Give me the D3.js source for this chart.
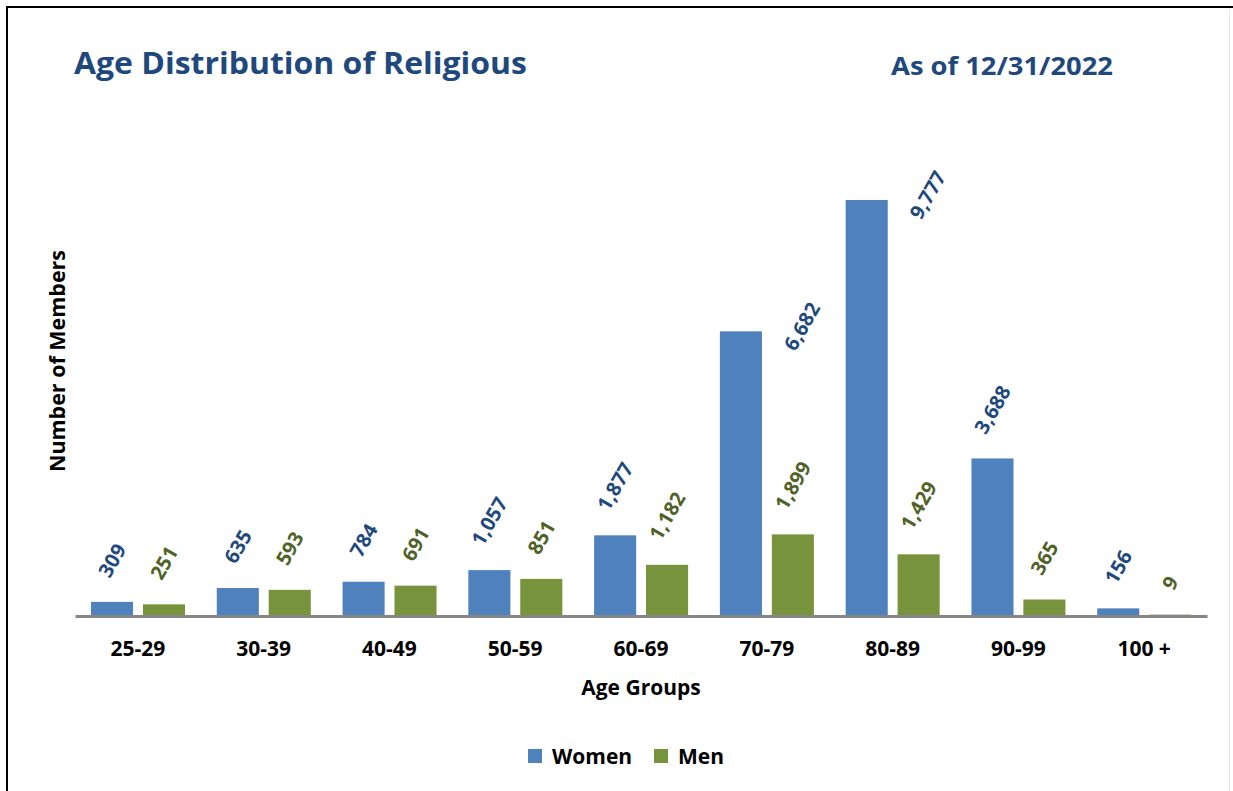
<!DOCTYPE html>
<html>
<head>
<meta charset="utf-8">
<script src="https://cdn.jsdelivr.net/npm/d3@7"></script>
<style>
  body { margin: 0; background: #fff; }
  svg { display: block; }
  text { font-family: "Open Sans", "Noto Sans", sans-serif; font-weight: 700; }
</style>
</head>
<body>
<div id="chart"></div>
<script>
// Data
const ageGroups = ["25-29", "30-39", "40-49", "50-59", "60-69", "70-79", "80-89", "90-99", "100 +"];
const women = [309, 635, 784, 1057, 1877, 6682, 9777, 3688, 156];
const men = [251, 593, 691, 851, 1182, 1899, 1429, 365, 9];
const seriesNames = ["Women", "Men"];
// women labels that were dragged beside their bar in the original
const sideLabels = ["70-79", "80-89"];

const W = 1233, H = 791;
const colors = { Women: "#4f81bd", Men: "#77933c" };
const labelColors = { Women: "#1f497d", Men: "#4f6228" };

const rows = ageGroups.map((g, i) => ({ group: g, Women: women[i], Men: men[i] }));

const svg = d3.select("#chart").append("svg")
    .attr("width", W).attr("height", H);

// frame
svg.append("path")
    .attr("d", "M7,800 V7 H1240")
    .attr("fill", "none").attr("stroke", "#000").attr("stroke-width", 2);
svg.append("line")
    .attr("x1", 1229.5).attr("x2", 1229.5).attr("y1", 9).attr("y2", H)
    .attr("stroke", "#e6e6e6").attr("stroke-width", 1);

const x0 = d3.scaleBand().domain(ageGroups).range([75, 1207]);
const x1 = d3.scaleBand().domain(seriesNames).range([16, 110]).paddingInner(0.19);
const y = d3.scaleLinear().domain([0, 10000]).range([615, 190.5]);

// bars
const groups = svg.selectAll(".grp")
    .data(rows)
    .join("g")
    .attr("class", "grp")
    .attr("transform", d => `translate(${x0(d.group)},0)`);

groups.selectAll("rect")
    .data(d => seriesNames.map(s => ({ s, v: d[s], group: d.group })))
    .join("rect")
    .attr("x", d => x1(d.s))
    .attr("width", x1.bandwidth())
    .attr("y", d => y(d.v))
    .attr("height", d => y(0) - y(d.v))
    .attr("fill", d => colors[d.s]);

// axis line + category labels
const xAxis = svg.append("g")
    .attr("transform", `translate(0,${y(0) + 1})`)
    .call(d3.axisBottom(x0).tickSize(0).tickPadding(25));
xAxis.select(".domain").attr("stroke", "#868686").attr("stroke-width", 3);
xAxis.selectAll("text")
    .attr("font-family", "'Open Sans', sans-serif")
    .attr("font-weight", 700)
    .attr("font-size", 21)
    .attr("fill", "#000");

// rotated value labels
const fmt = d3.format(",");
const angle = 60, rad = angle * Math.PI / 180, fs = 20;
groups.selectAll(".vlabel")
    .data(d => seriesNames.map(s => ({ s, v: d[s], group: d.group })))
    .join("text")
    .attr("class", "vlabel")
    .attr("font-size", fs)
    .attr("fill", d => labelColors[d.s])
    .attr("text-anchor", "middle")
    .attr("dy", "0.36em")
    .text(d => fmt(d.v))
    .each(function(d) {
      const L = this.getComputedTextLength();
      const h = 0.72 * fs;
      const boxH = L * Math.sin(rad) + h * Math.cos(rad);
      let cx = x1(d.s) + x1.bandwidth() / 2;
      let cy = y(d.v) - 23 - boxH / 2;
      if (d.s === "Women" && sideLabels.includes(d.group)) {
        cx = x1(d.s) + x1.bandwidth() + 40;
        cy = y(d.v) - 5;
      }
      d3.select(this).attr("transform", `translate(${cx},${cy}) rotate(${-angle})`);
    });

// titles
svg.append("text")
    .attr("x", 74).attr("y", 74)
    .attr("font-size", 30)
    .attr("fill", "#1f497d")
    .attr("textLength", 453).attr("lengthAdjust", "spacingAndGlyphs")
    .text("Age Distribution of Religious");

svg.append("text")
    .attr("x", 891).attr("y", 75)
    .attr("font-size", 25)
    .attr("fill", "#1f497d")
    .attr("textLength", 222).attr("lengthAdjust", "spacingAndGlyphs")
    .text("As of 12/31/2022");

// axis titles
svg.append("text")
    .attr("transform", "translate(65,361) rotate(-90)")
    .attr("text-anchor", "middle")
    .attr("font-family", "'Liberation Sans', Arial, sans-serif")
    .attr("font-size", 22)
    .attr("fill", "#000")
    .attr("textLength", 222).attr("lengthAdjust", "spacingAndGlyphs")
    .text("Number of Members");

svg.append("text")
    .attr("x", 641).attr("y", 695)
    .attr("text-anchor", "middle")
    .attr("font-size", 21)
    .attr("fill", "#000")
    .text("Age Groups");

// legend
const legend = svg.append("g").attr("transform", "translate(528,749)");
const legendX = [0, 126];
seriesNames.forEach((s, i) => {
  const g = legend.append("g").attr("transform", `translate(${legendX[i]},0)`);
  g.append("rect").attr("width", 14).attr("height", 14).attr("fill", colors[s]);
  g.append("text")
    .attr("x", 24).attr("y", 7).attr("dy", "0.36em")
    .attr("font-size", 21)
    .attr("fill", "#000")
    .text(s);
});
</script>
</body>
</html>
